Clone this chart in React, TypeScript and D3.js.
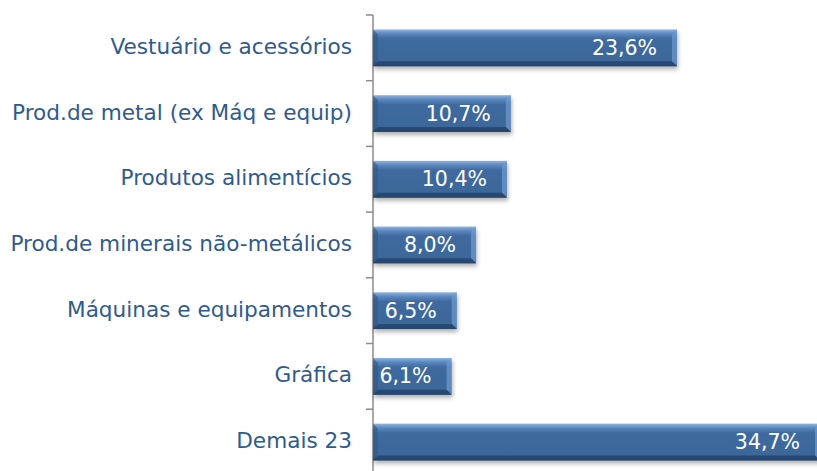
import { useRef, useEffect } from 'react'
import * as d3 from 'd3'

const categories = [
  'Vestuário e acessórios',
  'Prod.de metal (ex Máq e equip)',
  'Produtos alimentícios',
  'Prod.de minerais não-metálicos',
  'Máquinas e equipamentos',
  'Gráfica',
  'Demais 23',
]
const values = [23.6, 10.7, 10.4, 8.0, 6.5, 6.1, 34.7]
const valueLabels = ['23,6%', '10,7%', '10,4%', '8,0%', '6,5%', '6,1%', '34,7%']

const W = 817
const H = 471
const FONT = "'DejaVu Sans', Verdana, sans-serif"

export default function App() {
  const svgRef = useRef<SVGSVGElement>(null)

  useEffect(() => {
    const svg = svgRef.current
    if (!svg) return
    const sel = d3.select(svg)
    sel.selectAll('*').remove()

    const x0 = 373
    const top = 15
    const band = 65.7

    const y = d3.scaleBand<string>()
      .domain(categories)
      .range([top, top + band * categories.length])
      .paddingInner(0.44)
      .paddingOuter(0.22)
    const x = d3.scaleLinear().domain([0, 23.6]).range([x0, 677])

    const defs = sel.append('defs')
    const grad = defs.append('linearGradient').attr('id', 'barGrad')
      .attr('x1', 0).attr('y1', 0).attr('x2', 0).attr('y2', 1)
    grad.append('stop').attr('offset', '0%').attr('stop-color', '#8fb4e0')
    grad.append('stop').attr('offset', '12%').attr('stop-color', '#5a86bd')
    grad.append('stop').attr('offset', '25%').attr('stop-color', '#3f6b9f')
    grad.append('stop').attr('offset', '85%').attr('stop-color', '#3c6699')
    grad.append('stop').attr('offset', '100%').attr('stop-color', '#2a4a72')
    const shadow = defs.append('filter').attr('id', 'shadow')
      .attr('x', '-5%').attr('y', '-20%').attr('width', '110%').attr('height', '150%')
    shadow.append('feDropShadow').attr('dx', 1).attr('dy', 3).attr('stdDeviation', 2)
      .attr('flood-color', '#000').attr('flood-opacity', 0.3)

    const g = sel.append('g')

    // axis
    g.append('line')
      .attr('x1', x0).attr('x2', x0).attr('y1', top).attr('y2', H)
      .attr('stroke', '#8c8c8c').attr('stroke-width', 1.5)
    d3.range(categories.length + 1).forEach((i) => {
      const ty = top + band * i
      if (ty > H) return
      g.append('line')
        .attr('x1', x0 - 7).attr('x2', x0).attr('y1', ty).attr('y2', ty)
        .attr('stroke', '#8c8c8c').attr('stroke-width', 1.5)
    })

    categories.forEach((c, i) => {
      const by = y(c)!
      const bh = y.bandwidth()
      const bw = x(values[i]) - x0
      const bar = g.append('g').attr('filter', 'url(#shadow)')
      bar.append('rect')
        .attr('x', x0).attr('y', by).attr('width', bw).attr('height', bh)
        .attr('fill', 'url(#barGrad)')
      // bevel edges
      const b = 5
      bar.append('path')
        .attr('d', `M${x0},${by} L${x0 + b},${by + b} L${x0 + b},${by + bh - b} L${x0},${by + bh} Z`)
        .attr('fill', '#2f5685').attr('opacity', 0.6)
      bar.append('path')
        .attr('d', `M${x0 + bw},${by} L${x0 + bw - b},${by + b} L${x0 + bw - b},${by + bh - b} L${x0 + bw},${by + bh} Z`)
        .attr('fill', '#6f9bd0').attr('opacity', 0.7)
      bar.append('path')
        .attr('d', `M${x0},${by + bh} L${x0 + b},${by + bh - b} L${x0 + bw - b},${by + bh - b} L${x0 + bw},${by + bh} Z`)
        .attr('fill', '#22426a').attr('opacity', 0.7)

      g.append('text')
        .attr('x', x(values[i]) - 20).attr('y', by + bh / 2 + 1)
        .attr('text-anchor', 'end').attr('dominant-baseline', 'middle')
        .attr('fill', '#ffffff').attr('font-size', '20.5px').attr('font-family', FONT)
        .text(valueLabels[i])

      g.append('text')
        .attr('x', 352).attr('y', by + bh / 2)
        .attr('text-anchor', 'end').attr('dominant-baseline', 'middle')
        .attr('fill', '#2f5b8c').attr('font-size', '21.6px').attr('font-family', FONT)
        .text(c)
    })
  }, [])

  return (
    <div style={{ position: 'fixed', left: 0, top: 0 }}>
      <svg ref={svgRef} width={W} height={H} style={{ display: 'block', background: '#fff' }} />
    </div>
  )
}
